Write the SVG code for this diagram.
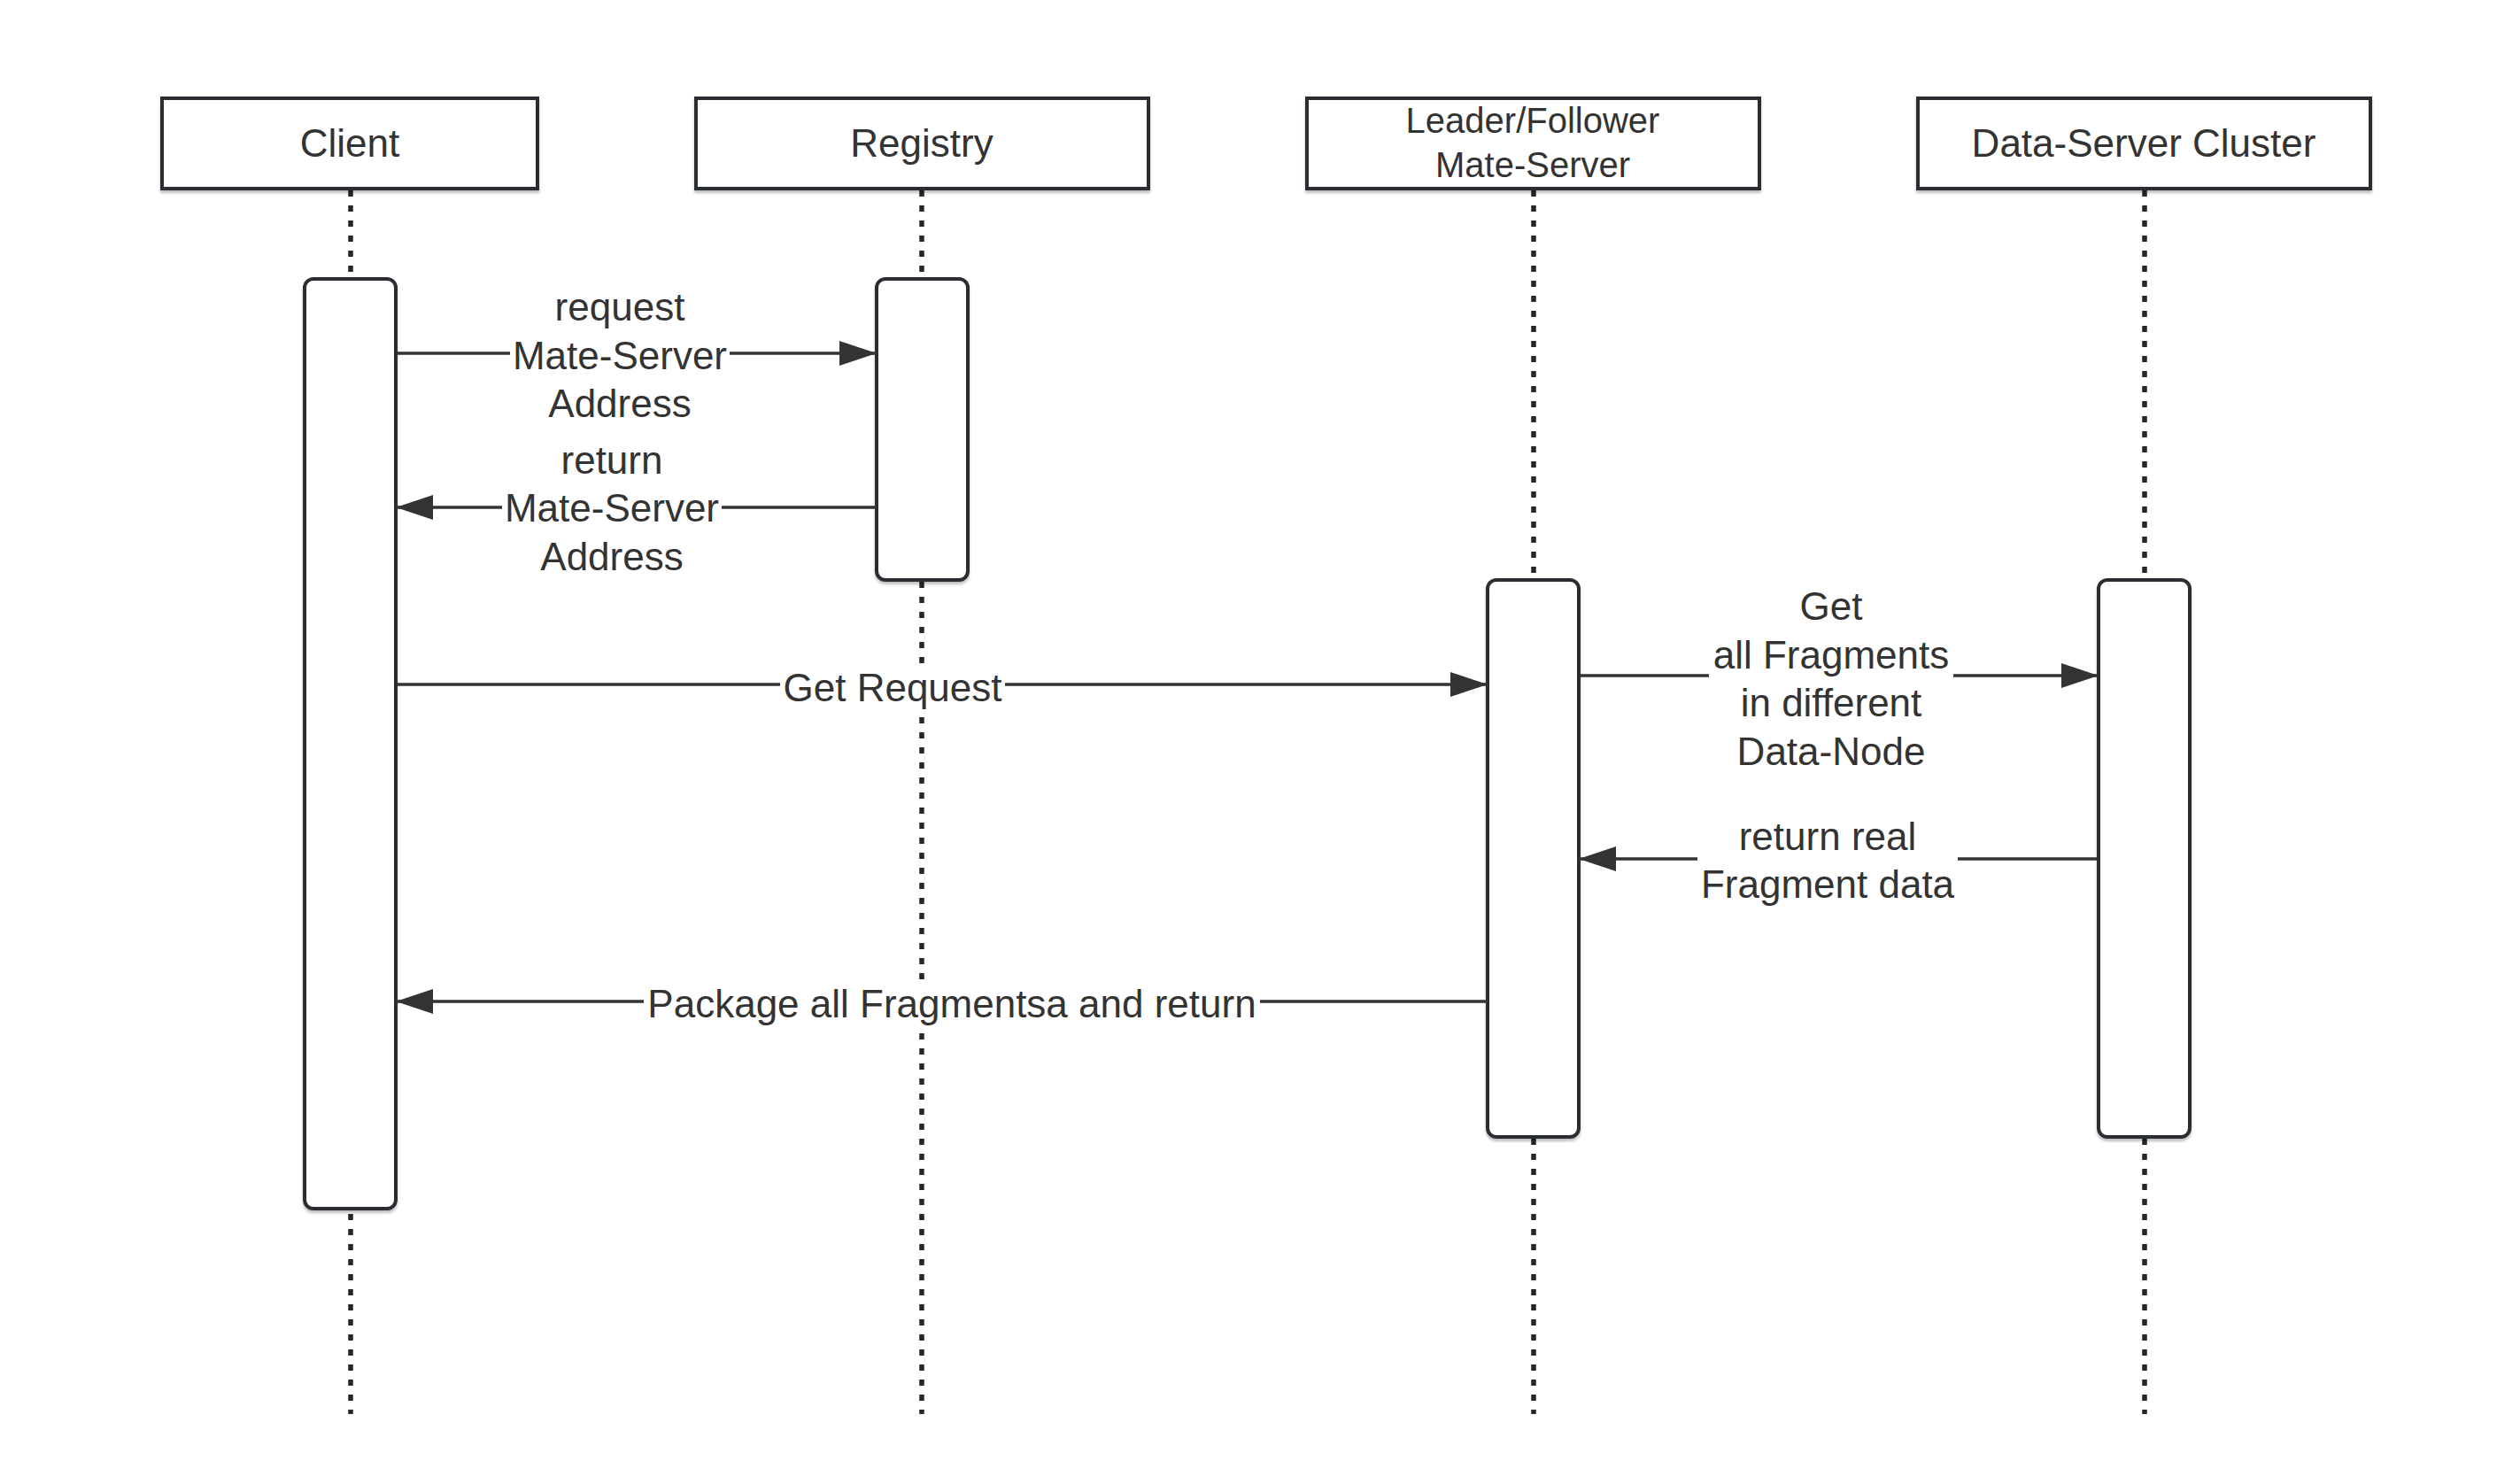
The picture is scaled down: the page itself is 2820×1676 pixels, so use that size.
<svg xmlns="http://www.w3.org/2000/svg" width="2820" height="1676" viewBox="0 0 2820 1676">
<style>
.hdr{fill:#fff;stroke:#2b2f33;stroke-width:4}
.act{fill:#fff;stroke:#2b2f33;stroke-width:4}
.life{stroke:#23272b;stroke-width:5.5;stroke-dasharray:7 10;fill:none}
.msg{stroke:#333;stroke-width:3.5;fill:none;marker-end:url(#ah)}
.bg{fill:#fff}
text{font-family:"Liberation Sans",Arial,sans-serif;font-size:44px;fill:#333;text-anchor:middle}
.sm{font-size:40px}
</style>
<defs>
<marker id="ah" markerUnits="userSpaceOnUse" markerWidth="42" markerHeight="28" refX="42" refY="14" orient="auto">
<path d="M0,0 L42,14 L0,28 Z" fill="#333"/>
</marker>
<filter id="sh" x="-10%" y="-10%" width="120%" height="130%">
<feDropShadow dx="0" dy="3" stdDeviation="1.5" flood-color="#000" flood-opacity="0.25"/>
</filter>
</defs>
<rect width="2820" height="1676" fill="#fff"/>
<g id="lifelines">
<line class="life" x1="396" y1="215" x2="396" y2="1597"/>
<line class="life" x1="1041" y1="215" x2="1041" y2="1597"/>
<line class="life" x1="1732" y1="215" x2="1732" y2="1597"/>
<line class="life" x1="2422" y1="215" x2="2422" y2="1597"/>
</g>
<g id="client">
<rect class="hdr" filter="url(#sh)" x="183" y="111" width="424" height="102"/>
<text x="395" y="177">Client</text>
<rect class="act" filter="url(#sh)" x="344" y="315" width="103" height="1050" rx="10"/>
</g>
<g id="registry">
<rect class="hdr" filter="url(#sh)" x="786" y="111" width="511" height="102"/>
<text x="1041" y="177">Registry</text>
<rect class="act" filter="url(#sh)" x="990" y="315" width="103" height="340" rx="10"/>
</g>
<g id="mateserver">
<rect class="hdr" filter="url(#sh)" x="1476" y="111" width="511" height="102"/>
<text class="sm" x="1731" y="150">Leader/Follower</text>
<text class="sm" x="1731" y="200">Mate-Server</text>
<rect class="act" filter="url(#sh)" x="1680" y="655" width="103" height="629" rx="10"/>
</g>
<g id="dataserver">
<rect class="hdr" filter="url(#sh)" x="2166" y="111" width="511" height="102"/>
<text x="2421" y="177">Data-Server Cluster</text>
<rect class="act" filter="url(#sh)" x="2370" y="655" width="103" height="629" rx="10"/>
</g>
<g id="connectors">
<line class="msg" x1="449" y1="399" x2="990" y2="399"/>
<line class="msg" x1="990" y1="573" x2="447" y2="573"/>
<line class="msg" x1="449" y1="773" x2="1680" y2="773"/>
<line class="msg" x1="1785" y1="763" x2="2370" y2="763"/>
<line class="msg" x1="2370" y1="970" x2="1783" y2="970"/>
<line class="msg" x1="1680" y1="1131" x2="447" y2="1131"/>
</g>
<g id="labels">
<rect class="bg" x="576" y="326" width="248" height="158"/>
<text x="700" y="362">request</text>
<text x="700" y="416.5">Mate-Server</text>
<text x="700" y="471">Address</text>
<rect class="bg" x="567" y="498" width="248" height="158"/>
<text x="691" y="534.5">return</text>
<text x="691" y="589">Mate-Server</text>
<text x="691" y="643.5">Address</text>
<rect class="bg" x="881" y="752" width="254" height="54"/>
<text x="1008" y="792">Get Request</text>
<rect class="bg" x="1930" y="664" width="276" height="212"/>
<text x="2068" y="700">Get</text>
<text x="2068" y="754.5">all Fragments</text>
<text x="2068" y="809">in different</text>
<text x="2068" y="863.5">Data-Node</text>
<rect class="bg" x="1917" y="923" width="294" height="104"/>
<text x="2064" y="960">return real</text>
<text x="2064" y="1014">Fragment data</text>
<rect class="bg" x="727" y="1106" width="696" height="56"/>
<text x="1075" y="1149">Package all Fragmentsa and return</text>
</g>
</svg>
